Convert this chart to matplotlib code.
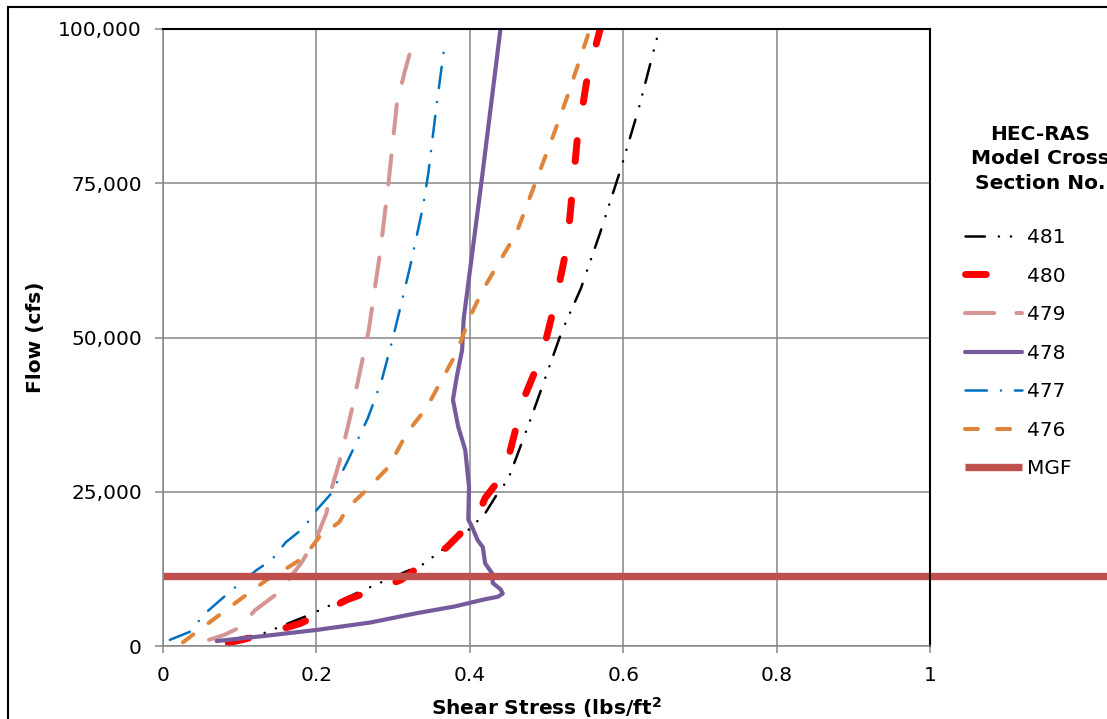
import matplotlib
matplotlib.use("Agg")
import matplotlib.pyplot as plt
from matplotlib.patches import Rectangle
from matplotlib.ticker import FuncFormatter

plt.rcParams['font.family'] = ['DejaVu Sans']
plt.rcParams['lines.scale_dashes'] = False

# ---------------------------------------------------------------
# data: shear stress (lbs/ft2) vs flow (cfs)
x_481 = [0.09, 0.13, 0.19, 0.26, 0.34, 0.40, 0.42, 0.435, 0.45, 0.48, 0.52, 0.545, 0.57, 0.596, 0.62, 0.645]
y_481 = [1000, 2000, 5000, 9000, 13300, 19000, 21500, 24500, 27000, 37000, 51000, 58000, 67000, 77000, 87000, 99000]

x_480 = [0.085, 0.13, 0.18, 0.24, 0.31, 0.37, 0.41, 0.42, 0.445, 0.47, 0.495, 0.513, 0.527, 0.54, 0.553, 0.57]
y_480 = [500, 1800, 3700, 7500, 10700, 16000, 21000, 24000, 28000, 40000, 47500, 56500, 65000, 82000, 92000, 100000]

x_479 = [0.06, 0.08, 0.10, 0.12, 0.15, 0.18, 0.20, 0.213, 0.218, 0.23, 0.246, 0.268, 0.283, 0.294, 0.305, 0.315, 0.325]
y_479 = [1000, 1800, 3000, 5800, 8600, 13400, 17500, 21500, 24800, 29800, 38200, 51000, 63700, 75000, 88000, 93000, 97500]

x_478 = [0.07, 0.13, 0.20, 0.27, 0.33, 0.38, 0.417, 0.437, 0.443, 0.44, 0.43, 0.429, 0.42, 0.417, 0.41,
         0.403, 0.398, 0.399, 0.394, 0.385, 0.378, 0.383, 0.39, 0.392, 0.415, 0.44]
y_478 = [800, 1600, 2600, 3800, 5300, 6400, 7500, 8000, 8500, 9200, 10200, 11800, 13400, 16000, 17200,
         19300, 20500, 25800, 31800, 35500, 39900, 43600, 48000, 53000, 75000, 100000]

x_477 = [0.009, 0.035, 0.055, 0.09, 0.122, 0.142, 0.16, 0.183, 0.20, 0.22, 0.24, 0.267, 0.285, 0.30, 0.322, 0.339, 0.346, 0.357, 0.368]
y_477 = [1000, 2300, 5300, 9100, 12300, 14000, 16800, 19100, 22000, 24800, 29800, 36900, 43000, 50000, 61400, 71200, 76700, 88000, 98200]

x_476 = [0.026, 0.044, 0.07, 0.10, 0.135, 0.16, 0.183, 0.204, 0.23, 0.24, 0.262, 0.294, 0.318, 0.344, 0.383, 0.40, 0.417, 0.461, 0.509, 0.527, 0.554]
y_476 = [600, 2300, 4700, 7500, 10700, 12500, 14300, 17700, 20100, 22300, 24900, 29000, 34500, 38700, 47600, 53300, 57700, 67000, 82800, 89000, 99000]

mgf_x = [0, 1.25]
mgf_flow = 11300

x_ticks = [0, 0.2, 0.4, 0.6, 0.8, 1]
x_tick_labels = ['0', '0.2', '0.4', '0.6', '0.8', '1']
y_ticks = [0, 25000, 50000, 75000, 100000]

# ---------------------------------------------------------------
fig = plt.figure(figsize=(11.07, 7.19), dpi=100)
ax = fig.add_axes([163 / 1107, 1 - 646 / 719, 767 / 1107, 617 / 719])

fs = 14.5
grid_c = '#868686'

ax.plot(x_481, y_481, color='black', lw=1.8, dashes=(14, 10, 0.1, 8.6, 0.1, 8.6),
        dash_capstyle='round', label='481')
ax.plot(x_480, y_480, color='#FF0000', lw=5, dashes=(15, 28),
        dash_capstyle='round', label='480')
ax.plot(x_479, y_479, color='#D59593', lw=2.9, dashes=(21, 16),
        dash_capstyle='round', label='479')
ax.plot(x_478, y_478, color='#765A9C', lw=3, solid_capstyle='round', label='478')
ax.plot(x_477, y_477, color='#0070C0', lw=1.8, dashes=(15.5, 10, 0.1, 10),
        dash_capstyle='round', label='477')
ax.plot(x_476, y_476, color='#E0843A', lw=2.9, dashes=(9.4, 13.7),
        dash_capstyle='round', label='476')
ax.plot(mgf_x, [mgf_flow, mgf_flow], color='#C0504D', lw=5.3, clip_on=False,
        solid_capstyle='butt', label='MGF')

ax.set_xlim(0, 1)
ax.set_ylim(0, 100000)
ax.set_xticks(x_ticks)
ax.set_xticklabels(x_tick_labels)
ax.set_yticks(y_ticks)
ax.yaxis.set_major_formatter(FuncFormatter(lambda v, p: '{:,.0f}'.format(v)))
ax.grid(True, color=grid_c, lw=1.1)
ax.set_axisbelow(True)

ax.tick_params(axis='y', length=5.8, width=1.1, color=grid_c, pad=9.4, labelsize=fs)
ax.tick_params(axis='x', length=5, width=1.1, color=grid_c, pad=9.4, labelsize=fs)
for s in ['left', 'bottom']:
    ax.spines[s].set_color(grid_c)
    ax.spines[s].set_linewidth(1.1)
for s in ['top', 'right']:
    ax.spines[s].set_color('black')
    ax.spines[s].set_linewidth(1.5)

ax.set_xlabel('Shear Stress (lbs/ft$^\\mathbf{2}$', fontsize=fs, fontweight='bold')
ax.xaxis.set_label_coords(0.5, (646 - 715) / 617)
ax.xaxis.label.set_va('baseline')
ax.set_ylabel('Flow (cfs)', fontsize=fs, fontweight='bold')
ax.yaxis.set_label_coords((35 - 163) / 767, 0.5)
ax.yaxis.label.set_va('center')

# legend
ax.legend(loc='upper left', bbox_to_anchor=(965 / 1107, 1 - 228 / 719),
          bbox_transform=fig.transFigure, frameon=False, fontsize=fs,
          handlelength=2.85, handletextpad=0.22, labelspacing=0.97,
          borderpad=0, borderaxespad=0)
fig.text(1040 / 1107, 1 - 159 / 719, 'HEC-RAS\nModel Cross\nSection No.',
         ha='center', va='center', fontsize=fs, fontweight='bold', linespacing=1.39)

# outer chart frame (cropped at right and bottom)
fig.add_artist(Rectangle((8 / 1107, -0.2), 1.3, 1.2 - 7 / 719, transform=fig.transFigure,
                         fill=False, lw=1.5, ec='black'))

fig.savefig('out.png', dpi=100)
